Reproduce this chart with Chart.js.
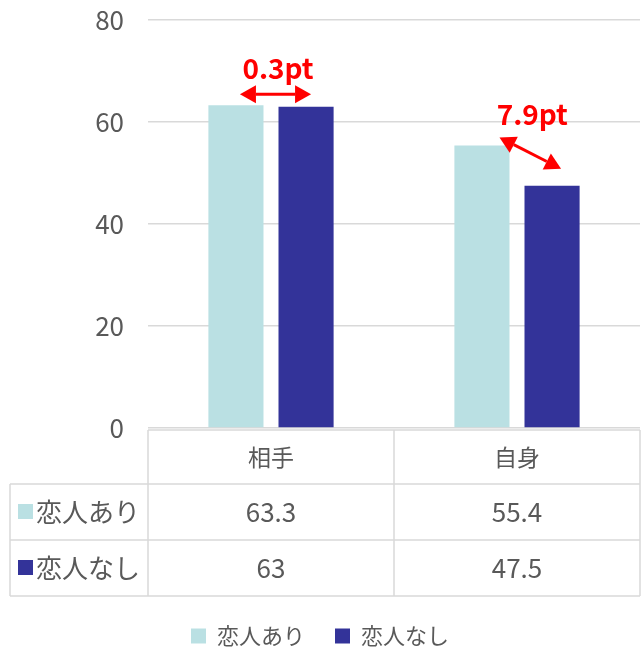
<!DOCTYPE html>
<html>
<head>
<meta charset="utf-8">
<script src="https://cdn.jsdelivr.net/npm/chart.js@4"></script>
<style>
  html, body { margin: 0; padding: 0; background: #fff; }
  #wrap { width: 644px; height: 647px; }
</style>
</head>
<body>
<div id="wrap"><canvas id="chart" width="644" height="647"></canvas></div>
<script>
// ── Data ─────────────────────────────────────────────
const categories = ['相手', '自身'];
const seriesNames = ['恋人あり', '恋人なし'];
const withPartner = [63.3, 55.4];
const withoutPartner = [63, 47.5];
const gapLabels = ['0.3pt', '7.9pt'];
const yMax = 80;
const yStep = 20;

const COLORS = ['#BAE0E3', '#333399'];
const TEXT = '#595959';
const LINE = '#D9D9D9';
const RED = '#FF0000';
const FONT = '"Noto Sans CJK JP", "Noto Sans", sans-serif';

// draw a line with arrow heads on both ends
function doubleArrow(ctx, x1, y1, x2, y2) {
    const ang = Math.atan2(y2 - y1, x2 - x1);
    const head = 16, half = 9;
    ctx.save();
    ctx.strokeStyle = RED;
    ctx.fillStyle = RED;
    ctx.lineWidth = 3;
    ctx.beginPath();
    ctx.moveTo(x1 + Math.cos(ang) * head, y1 + Math.sin(ang) * head);
    ctx.lineTo(x2 - Math.cos(ang) * head, y2 - Math.sin(ang) * head);
    ctx.stroke();
    [[x1, y1, ang + Math.PI], [x2, y2, ang]].forEach(([x, y, a]) => {
        ctx.beginPath();
        ctx.moveTo(x, y);
        ctx.lineTo(x - Math.cos(a) * head - Math.sin(a) * half, y - Math.sin(a) * head + Math.cos(a) * half);
        ctx.lineTo(x - Math.cos(a) * head + Math.sin(a) * half, y - Math.sin(a) * head - Math.cos(a) * half);
        ctx.closePath();
        ctx.fill();
    });
    ctx.restore();
}

// ── Data table under the plot ────────────────────────
const dataTablePlugin = {
    id: 'dataTable',
    afterDraw(chart) {
        const ctx = chart.ctx;
        const area = chart.chartArea;
        const xs = chart.scales.x;
        const left0 = 10;
        const left1 = area.left;
        const mid = (xs.getPixelForValue(0) + xs.getPixelForValue(1)) / 2;
        const right = area.right;
        const rowTops = [area.bottom + 2, area.bottom + 56, area.bottom + 112, area.bottom + 168];

        ctx.save();
        ctx.strokeStyle = LINE;
        ctx.lineWidth = 1.5;
        ctx.beginPath();
        ctx.moveTo(left1, rowTops[0]); ctx.lineTo(right, rowTops[0]);
        for (let i = 1; i < 4; i++) {
            ctx.moveTo(left0, rowTops[i]); ctx.lineTo(right, rowTops[i]);
        }
        ctx.moveTo(left0, rowTops[1]); ctx.lineTo(left0, rowTops[3]);
        [left1, mid, right].forEach(x => {
            ctx.moveTo(x, rowTops[0]); ctx.lineTo(x, rowTops[3]);
        });
        ctx.stroke();

        ctx.fillStyle = TEXT;
        ctx.textAlign = 'center';
        ctx.textBaseline = 'middle';
        const colCenters = [(left1 + mid) / 2, (mid + right) / 2];
        ctx.font = '23px ' + FONT;
        categories.forEach((c, i) => {
            ctx.fillText(c, colCenters[i], (rowTops[0] + rowTops[1]) / 2);
        });

        [withPartner, withoutPartner].forEach((vals, r) => {
            const cy = (rowTops[r + 1] + rowTops[r + 2]) / 2;
            ctx.fillStyle = COLORS[r];
            ctx.fillRect(left0 + 8, cy - 8, 15, 15);
            ctx.fillStyle = TEXT;
            ctx.textAlign = 'left';
            ctx.font = '26px ' + FONT;
            ctx.fillText(seriesNames[r], left0 + 26, cy);
            ctx.textAlign = 'center';
            ctx.font = '26px ' + FONT;
            vals.forEach((v, i) => ctx.fillText(String(v), colCenters[i], cy));
        });
        ctx.restore();
    }
};

// ── Gap annotations ──────────────────────────────────
const gapPlugin = {
    id: 'gapArrows',
    afterDatasetsDraw(chart) {
        const ctx = chart.ctx;
        const a = chart.getDatasetMeta(0).data;
        const b = chart.getDatasetMeta(1).data;

        // 相手: horizontal arrow above both bars
        const y0 = Math.min(a[0].y, b[0].y) - 11;
        doubleArrow(ctx, a[0].x + 4, y0, b[0].x + 5, y0);
        // 自身: diagonal arrow from left bar top to right bar top
        const sx = a[1].x + a[1].width / 2 - 10, sy = a[1].y - 8;
        const ex = b[1].x + 9, ey = b[1].y - 17;
        doubleArrow(ctx, sx, sy, ex, ey);

        ctx.save();
        ctx.fillStyle = RED;
        ctx.font = 'bold 28px ' + FONT;
        ctx.textAlign = 'center';
        ctx.textBaseline = 'middle';
        ctx.fillText(gapLabels[0], (a[0].x + b[0].x) / 2 + 7, y0 - 26);
        ctx.fillText(gapLabels[1], (sx + ex) / 2 + 2, sy - 23);
        ctx.restore();
    }
};

new Chart(document.getElementById('chart').getContext('2d'), {
    type: 'bar',
    data: {
        labels: categories,
        datasets: [
            { label: seriesNames[0], data: withPartner, backgroundColor: COLORS[0], categoryPercentage: 0.57, barPercentage: 0.786 },
            { label: seriesNames[1], data: withoutPartner, backgroundColor: COLORS[1], categoryPercentage: 0.57, barPercentage: 0.786 }
        ]
    },
    options: {
        responsive: false,
        animation: false,
        layout: { padding: { top: 0, right: 4, left: 0, bottom: -10 } },
        plugins: {
            legend: {
                position: 'bottom',
                labels: {
                    color: TEXT,
                    font: { size: 22, family: FONT },
                    boxWidth: 15,
                    boxHeight: 15,
                    padding: 30
                }
            },
            tooltip: { enabled: false }
        },
        scales: {
            x: {
                grid: { display: false },
                border: { display: false },
                ticks: { display: false },
                afterFit: s => { s.height = 167; }
            },
            y: {
                min: 0,
                max: yMax,
                ticks: { stepSize: yStep, color: TEXT, font: { size: 26, family: FONT }, padding: 24 },
                grid: { color: LINE, lineWidth: 1.5, drawTicks: false },
                border: { display: false },
                afterFit: s => { s.width = 148; s.paddingTop = 20; s.paddingBottom = 0; }
            }
        }
    },
    plugins: [dataTablePlugin, gapPlugin]
});
</script>
</body>
</html>
